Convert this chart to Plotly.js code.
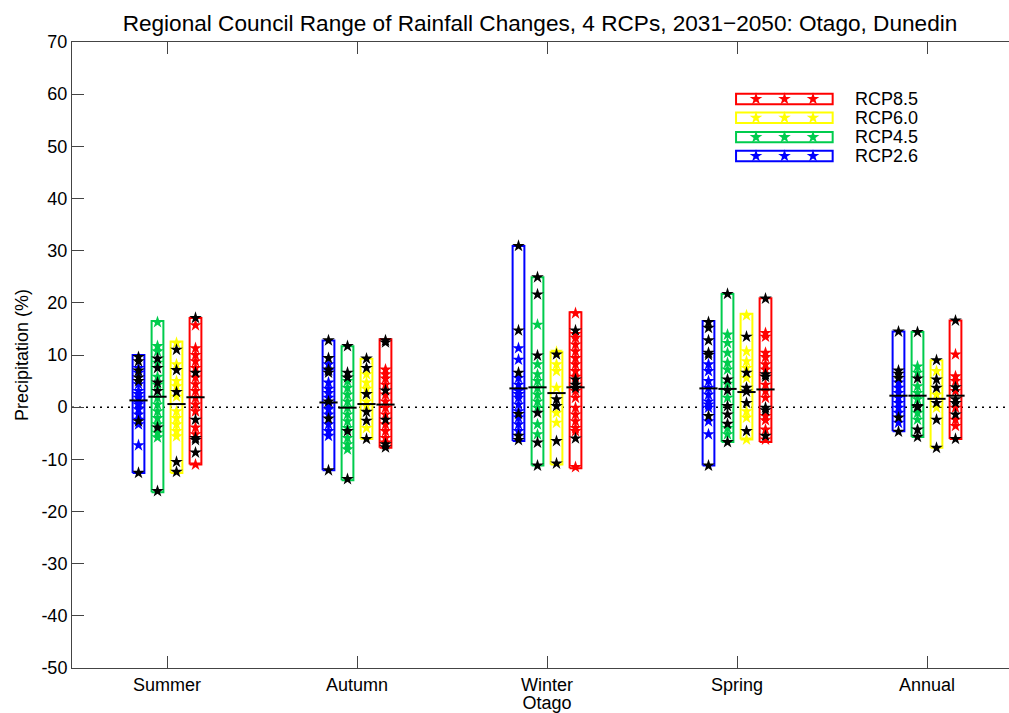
<!DOCTYPE html>
<html>
<head>
<meta charset="utf-8">
<script src="https://cdn.plot.ly/plotly-3.0.1.min.js"></script>
<style>html,body{margin:0;padding:0;overflow:hidden;background:#fff}#chart{width:1040px;height:713px}</style>
</head>
<body>
<div id="chart"></div>
<script>
const seasons = ['Summer', 'Autumn', 'Winter', 'Spring', 'Annual'];
const rcpNames = ['RCP2.6', 'RCP4.5', 'RCP6.0', 'RCP8.5'];
const rcpColors = ['#0000ff', '#00cc4d', '#ffff00', '#ff0000'];
const yTickVals = [-50, -40, -30, -20, -10, 0, 10, 20, 30, 40, 50, 60, 70];
const yTickText = ['-50', '-40', '-30', '-20', '-10', '0', '10', '20', '30', '40', '50', '60', '70'];

// RCP2.6
const rcp26Hi = [10.0, 12.8, 30.9, 16.5, 14.5];
const rcp26Lo = [-12.6, -12.1, -6.5, -11.2, -4.6];
const rcp26Mean = [1.3, 0.9, 3.6, 3.6, 2.2];
const rcp26Models = [
  [7.5, 6.6, 4.4, 3.1, 1.8, 0.5, -0.4, -1.4, -2.4, -3.3, -7.3, 2.5, 0.9],
  [8.2, 7.0, 4.7, 2.7, 1.8, 0.5, -0.4, -1.4, -3.3, -4.6, -5.5, 3.5],
  [11.3, 9.1, 5.6, 4.3, 3.1, 1.8, 0.5, -0.8, -2.0, -3.3, -4.6, 2.5],
  [8.2, 6.9, 5.0, 3.7, 2.4, 1.1, -0.1, -2.7, -5.2, 0.5],
  [4.7, 3.7, 2.7, 1.8, 0.8, -0.1, -1.1, -3.0]
];
const rcp26Selected = [
  [9.6, 8.8, 7.0, 5.7, 5.0, -2.7, -12.6],
  [12.8, 9.4, 7.2, 6.6, 1.1, -2.2, -12.1],
  [30.9, 14.7, 6.6, -1.3, -5.5, -6.3],
  [16.3, 15.2, 12.8, 10.4, 10.0, -1.7, -11.2],
  [14.5, 7.0, 6.4, 5.6, -2.0, -4.7]
];

// RCP4.5
const rcp45Hi = [16.5, 11.7, 24.9, 21.7, 14.4];
const rcp45Lo = [-16.3, -14.0, -11.2, -6.7, -5.7];
const rcp45Mean = [2.0, -0.1, 3.8, 3.5, 2.2];
const rcp45Models = [
  [16.3, 11.7, 10.7, 8.5, 5.8, 4.3, 1.8, 0.5, -0.8, -2.1, -3.3, -4.9, -5.8],
  [5.0, 3.7, 2.4, 1.1, -0.1, -1.4, -2.7, -4.0, -5.9, -7.1, -8.1],
  [15.8, 8.2, 6.3, 5.0, 3.7, 2.4, 1.1, -0.1, -3.3, -5.2],
  [13.9, 12.3, 10.4, 8.5, 7.2, 4.5, 1.8, -4.0, -5.2],
  [7.8, 6.6, 4.0, 2.7, 1.5, -1.1, -2.4]
];
const rcp45Selected = [
  [9.3, 7.5, 4.7, 3.1, -3.9, -16.1],
  [11.7, 6.6, 5.7, -4.6, -13.8],
  [24.9, 21.6, 9.9, -1.1, -6.8, -11.2],
  [21.7, 5.3, 3.2, 0.2, -1.4, -3.2, -6.7],
  [14.4, 5.5, 0.2, 0.0, -4.3, -5.7]
];

// RCP6.0
const rcp60Hi = [12.6, 9.3, 10.6, 17.9, 9.0];
const rcp60Lo = [-12.6, -6.1, -11.0, -6.2, -7.8];
const rcp60Mean = [0.6, 0.6, 2.7, 2.9, 1.6];
const rcp60Models = [
  [12.3, 8.2, 5.0, 4.0, 2.0, -0.8, -2.1, -3.3, -4.6, -5.6],
  [6.3, 4.7, 3.5, 1.1, 0.3, -4.0],
  [10.6, 8.2, 6.9, 3.7, -1.1, -3.0],
  [17.6, 10.7, 8.8, 7.5, 5.6, -0.8, -2.0, -6.2],
  [6.9, 2.4, -0.1]
];
const rcp60Selected = [
  [11.0, 7.1, 2.9, -10.5, -12.4],
  [9.3, 7.5, 2.5, -0.9, -2.6, -6.1],
  [10.1, 1.5, 0.2, -6.5, -10.8],
  [13.5, 6.6, 3.7, 3.0, 0.8, -4.6],
  [9.0, 5.3, 3.7, 0.8, -2.4, -7.8]
];

// RCP8.5
const rcp85Hi = [17.1, 13.0, 18.2, 20.9, 16.6];
const rcp85Lo = [-11.0, -7.8, -11.7, -6.7, -6.1];
const rcp85Mean = [1.9, 0.5, 3.8, 3.4, 2.2];
const rcp85Models = [
  [15.7, 11.3, 10.0, 8.8, 7.5, 5.7, 4.4, 3.1, 1.8, 0.5, -0.8, -3.9, -5.2, -11.0],
  [7.2, 6.3, 5.5, 4.3, 2.4, 1.1, -0.1, -1.4, -3.3, -4.6, -5.9, -6.8],
  [18.0, 14.0, 13.3, 12.0, 10.7, 9.4, 8.2, 6.9, 5.8, 3.1, 1.8, -0.1, -1.4, -2.7, -4.0, -4.6, -11.5],
  [14.2, 13.5, 10.4, 9.6, 8.2, 7.2, 4.3, 3.1, 1.8, -1.7, -2.5, -4.3, -6.2],
  [10.1, 5.9, 5.0, 3.1, -0.1, -2.4, -3.6]
];
const rcp85Selected = [
  [17.1, 6.6, -2.4, -5.9, -6.3, -8.7],
  [12.8, 12.4, 3.2, -2.4, -7.1, -7.7],
  [14.7, 5.3, 4.3, 3.7, -6.0],
  [20.8, 6.3, 5.8, -0.1, -0.6, -5.5],
  [16.6, 3.8, 1.5, 0.8, -1.4, -6.1]
];

const his = [rcp26Hi, rcp45Hi, rcp60Hi, rcp85Hi];
const los = [rcp26Lo, rcp45Lo, rcp60Lo, rcp85Lo];
const means = [rcp26Mean, rcp45Mean, rcp60Mean, rcp85Mean];
const models = [rcp26Models, rcp45Models, rcp60Models, rcp85Models];
const selected = [rcp26Selected, rcp45Selected, rcp60Selected, rcp85Selected];

const offsets = [-0.15, -0.05, 0.05, 0.15];
const boxHalf = 0.031;
const meanHalf = 0.048;
const FONT = 'Liberation Sans, Arial, Helvetica, sans-serif';

const traces = [];
// zero line
traces.push({x: [0.5, 5.5], y: [0, 0], mode: 'lines', line: {color: '#000', width: 1.5, dash: '2px,5px'}, hoverinfo: 'skip', showlegend: false});

for (let r = 0; r < 4; r++) {
  const bx = [], by = [];
  const mx = [], my = [];
  const sx = [], sy = [];
  const kx = [], ky = [];
  for (let i = 0; i < seasons.length; i++) {
    const c = i + 1 + offsets[r];
    bx.push(c - boxHalf, c + boxHalf, c + boxHalf, c - boxHalf, c - boxHalf, null);
    by.push(los[r][i], los[r][i], his[r][i], his[r][i], los[r][i], null);
    mx.push(c - meanHalf, c + meanHalf, null);
    my.push(means[r][i], means[r][i], null);
    models[r][i].forEach(v => { sx.push(c); sy.push(v); });
    selected[r][i].forEach(v => { kx.push(c); ky.push(v); });
  }
  traces.push({x: bx, y: by, mode: 'lines', line: {color: rcpColors[r], width: 2}, showlegend: false, hoverinfo: 'skip'});
  traces.push({x: sx, y: sy, mode: 'markers', marker: {symbol: 'star', size: 9.5, color: rcpColors[r], line: {width: 0}}, showlegend: false, name: rcpNames[r]});
  traces.push({x: kx, y: ky, mode: 'markers', marker: {symbol: 'star', size: 9.5, color: '#000', line: {width: 0}}, showlegend: false, name: rcpNames[r]});
  traces.push({x: mx, y: my, mode: 'lines', line: {color: '#000', width: 2}, showlegend: false, hoverinfo: 'skip'});
}

// legend (drawn manually)
const legRows = [0.818, 0.848, 0.879, 0.909]; // RCP2.6 .. RCP8.5 (paper y)
const legX0 = 0.699, legX1 = 0.8007, legHalfH = 0.0083;
const legStarX = [0.720, 0.750, 0.780];
const shapes = [];
const annotations = [];
for (let r = 0; r < 4; r++) {
  shapes.push({type: 'rect', xref: 'paper', yref: 'paper', x0: legX0, x1: legX1, y0: legRows[r] - legHalfH, y1: legRows[r] + legHalfH, line: {color: rcpColors[r], width: 2}, fillcolor: 'rgba(0,0,0,0)'});
  traces.push({x: legStarX, y: legStarX.map(() => legRows[r]), xaxis: 'x2', yaxis: 'y2', mode: 'markers', marker: {symbol: 'star', size: 9.5, color: rcpColors[r], line: {width: 0}}, showlegend: false, hoverinfo: 'skip'});
  annotations.push({xref: 'paper', yref: 'paper', x: 0.8218, y: legRows[r], xanchor: 'left', yanchor: 'middle', text: rcpNames[r], showarrow: false, font: {family: FONT, size: 18, color: '#000'}});
}

const axisCommon = {showline: true, linecolor: '#444', linewidth: 1, mirror: 'ticks', ticks: 'inside', ticklen: 12, tickcolor: '#444', showgrid: false, zeroline: false, tickfont: {family: FONT, size: 18, color: '#000'}};

const layout = {
  width: 1040, height: 713,
  margin: {l: 72, r: 18, t: 42, b: 45},
  paper_bgcolor: '#fff', plot_bgcolor: '#fff',
  showlegend: false,
  title: {text: 'Regional Council Range of Rainfall Changes, 4 RCPs, 2031\u22122050: Otago, Dunedin', font: {family: FONT, size: 22.6, color: '#000'}, xref: 'paper', x: 0.4926, xanchor: 'center', yref: 'container', y: 0.968, yanchor: 'middle'},
  xaxis: Object.assign({}, axisCommon, {range: [0.5, 5.5], tickvals: [1, 2, 3, 4, 5], ticktext: seasons, title: {text: 'Otago', font: {family: FONT, size: 18, color: '#000'}, standoff: 0}}),
  yaxis: Object.assign({}, axisCommon, {range: [-50, 70], tickvals: yTickVals, ticktext: yTickText, title: {text: 'Precipitation (%)', font: {family: FONT, size: 18, color: '#000'}, standoff: 8}}),
  xaxis2: {overlaying: 'x', range: [0, 1], visible: false, fixedrange: true},
  yaxis2: {overlaying: 'y', range: [0, 1], visible: false, fixedrange: true},
  shapes: shapes,
  annotations: annotations
};

Plotly.newPlot('chart', traces, layout, {displayModeBar: false, staticPlot: true});
</script>
</body>
</html>
